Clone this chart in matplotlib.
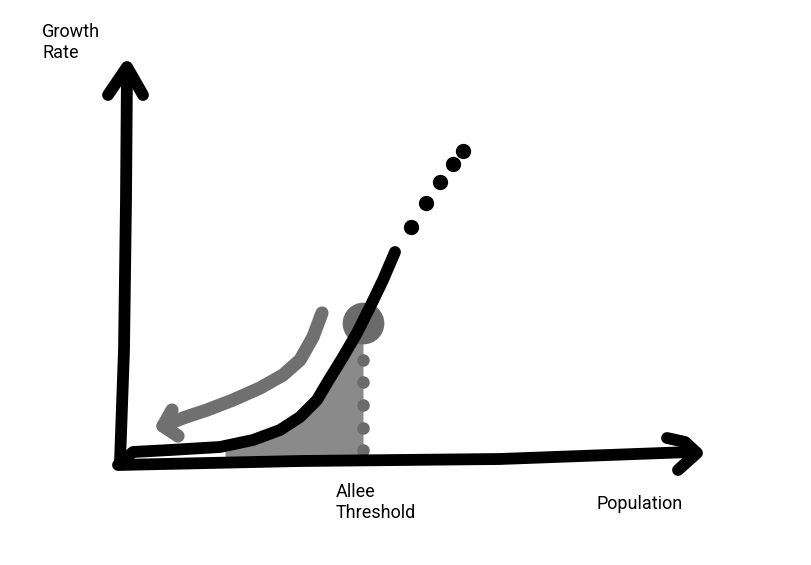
import numpy as np
import matplotlib
matplotlib.use('Agg')
import matplotlib.pyplot as plt

plt.rcParams['font.family'] = ['Roboto', 'DejaVu Sans']

# sketch units: origin at the axes corner, 1 unit = 50 px
curve_x = [-0.06, 0.16, 0.9, 1.9, 2.56, 3.1, 3.5, 3.84, 4.04, 4.36, 4.64, 4.9, 5.16, 5.4]
curve_y = [0.0, 0.2, 0.24, 0.3, 0.44, 0.64, 0.9, 1.24, 1.58, 2.1, 2.58, 3.1, 3.64, 4.2]

dots_x = [5.72, 6.02, 6.3, 6.56, 6.76]
dots_y = [4.7, 5.18, 5.6, 5.96, 6.22]

threshold_x = 4.76
threshold_y = 2.78
drop_y = [2.04, 1.6, 1.14, 0.68, 0.24]

decline_x = [3.94, 3.76, 3.5, 3.16, 2.7, 2.16, 1.64, 1.16, 0.76]
decline_y = [2.98, 2.5, 2.04, 1.74, 1.48, 1.24, 1.04, 0.88, 0.72]
decline_head_x = [0.94, 0.76, 1.06]
decline_head_y = [1.04, 0.72, 0.52]

yaxis_x = [-0.1, -0.02, 0.02, 0.04]
yaxis_y = [0.0, 2.24, 5.24, 7.88]
yhead_x = [-0.34, 0.04, 0.36]
yhead_y = [7.34, 7.9, 7.34]

xaxis_x = [-0.14, 3.5, 7.5, 11.3]
xaxis_y = [-0.06, 0.02, 0.06, 0.2]
xhead_x = [10.84, 11.2, 11.44, 11.06]
xhead_y = [0.48, 0.4, 0.18, -0.16]

fig = plt.figure(figsize=(8.12, 5.65), dpi=100)
ax = fig.add_axes([0, 0, 1, 1])
ax.set_xlim(-2.5, 13.74)
ax.set_ylim(-2.06, 9.24)
ax.axis('off')

pen = dict(solid_capstyle='round', solid_joinstyle='round')

# shaded area under the curve up to the threshold
fx = np.linspace(2.0, threshold_x, 60)
fy = np.interp(fx, curve_x, curve_y)
ax.fill_between(fx, 0.1, fy, color='#8a8a8a', lw=0, zorder=1)

# dotted drop line and threshold marker
ax.plot([threshold_x] * len(drop_y), drop_y, 'o', color='#6b6b6b', ms=8, zorder=2)
ax.plot(threshold_x, threshold_y, 'o', color='#6b6b6b', ms=29, zorder=2)

# decline arrow
ax.plot(decline_x, decline_y, color='#707070', lw=9.5, zorder=2, **pen)
ax.plot(decline_head_x, decline_head_y, color='#707070', lw=9.5, zorder=2, **pen)

# axes
ax.plot(yaxis_x, yaxis_y, color='black', lw=8.5, zorder=3, **pen)
ax.plot(yhead_x, yhead_y, color='black', lw=8.5, zorder=3, **pen)
ax.plot(xaxis_x, xaxis_y, color='black', lw=8.5, zorder=3, **pen)
ax.plot(xhead_x, xhead_y, color='black', lw=8.5, zorder=3, **pen)

# growth curve and its dotted continuation
ax.plot(curve_x, curve_y, color='black', lw=8.5, zorder=4, **pen)
ax.plot(dots_x, dots_y, 'o', color='black', ms=10, zorder=4)

ax.text(-1.66, 8.78, 'Growth\nRate', fontsize=13, va='top', ha='left', linespacing=1.25)
ax.text(4.22, -0.42, 'Allee\nThreshold', fontsize=13, va='top', ha='left', linespacing=1.25)
ax.text(9.44, -0.84, 'Population', fontsize=13, va='center', ha='left')

fig.savefig('out.png', dpi=100)
